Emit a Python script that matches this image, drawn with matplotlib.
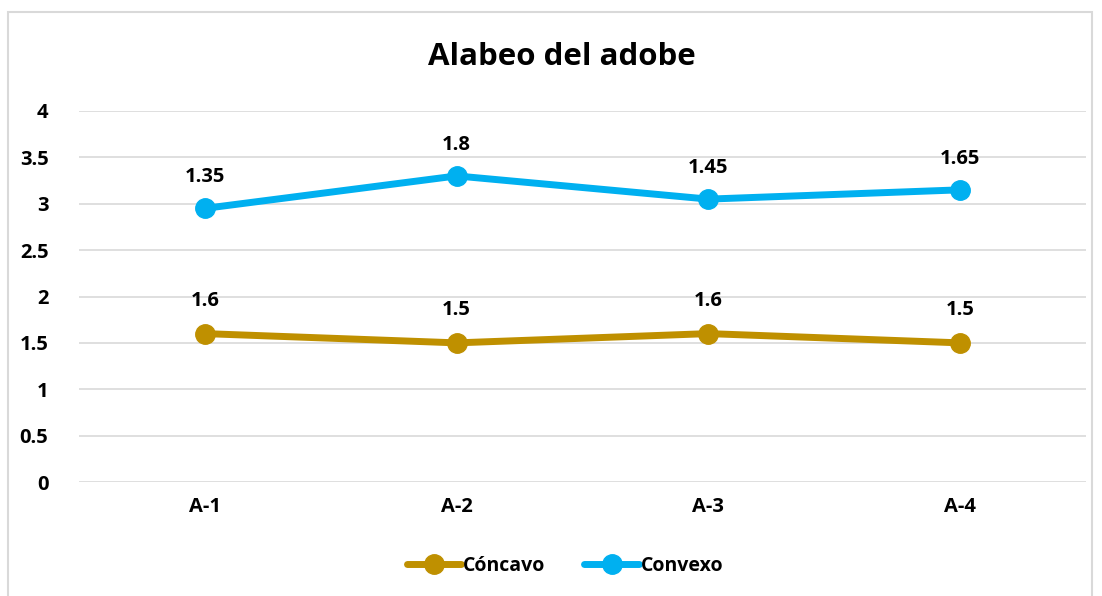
import matplotlib
matplotlib.use("Agg")
import matplotlib.pyplot as plt
import numpy as np
from matplotlib.patches import Rectangle

categories = ["A-1", "A-2", "A-3", "A-4"]
concavo = [1.6, 1.5, 1.6, 1.5]
convexo = [1.35, 1.8, 1.45, 1.65]
yticks = [0, 0.5, 1, 1.5, 2, 2.5, 3, 3.5, 4]
ytick_labels = ["0", "0.5", "1", "1.5", "2", "2.5", "3", "3.5", "4"]

plt.rcParams['font.family'] = ['Open Sans', 'DejaVu Sans']
plt.rcParams['font.weight'] = 'bold'

fig = plt.figure(figsize=(11.02, 5.96), dpi=100)
fig.patches.append(Rectangle((8/1102, -0.05), (1092-8)/1102, 1 - 12/596 + 0.05,
                             transform=fig.transFigure, fill=False,
                             edgecolor='#D9D9D9', linewidth=1.5))
ax = fig.add_axes([79/1102, 1-482/596, (1086-79)/1102, (482-111)/596])

x = np.arange(len(categories))
stack1 = np.array(concavo)
stack2 = stack1 + np.array(convexo)

c1 = '#BF9000'
c2 = '#00B0F0'
ax.plot(x, stack1, color=c1, lw=5, marker='o', ms=14, label='Cóncavo', solid_capstyle='round')
ax.plot(x, stack2, color=c2, lw=5, marker='o', ms=14, label='Convexo', solid_capstyle='round')

for xi, y, v in zip(x, stack1, concavo):
    ax.annotate(f"{v:g}", (xi, y), xytext=(0, 23.5), textcoords='offset points',
                ha='center', va='center', fontsize=14.5, fontweight='bold')
for xi, y, v in zip(x, stack2, convexo):
    ax.annotate(f"{v:g}", (xi, y), xytext=(0, 22.5), textcoords='offset points',
                ha='center', va='center', fontsize=14.5, fontweight='bold')

ax.set_xlim(-0.5, len(categories) - 0.5)
ax.set_ylim(0, 4)
ax.set_yticks(yticks)
ax.set_yticklabels(ytick_labels)
ax.set_xticks(x)
ax.set_xticklabels(categories)
ax.tick_params(axis='both', length=0, labelsize=14.5)
ax.tick_params(axis='y', pad=22)
ax.tick_params(axis='x', pad=11)
for lbl in ax.get_xticklabels() + ax.get_yticklabels():
    lbl.set_fontweight('bold')
ax.grid(axis='y', color='#D9D9D9', lw=1.2)
ax.set_axisbelow(True)
for s in ax.spines.values():
    s.set_visible(False)

fig.text(562/1102, 1-57/596, "Alabeo del adobe", ha='center', va='center',
         fontsize=22.5, fontweight='bold')

leg = fig.legend(loc='center', bbox_to_anchor=(565/1102, 1-566/596), ncol=2,
                 frameon=False, fontsize=14, handlelength=2.8, handletextpad=0.1,
                 columnspacing=2.0, markerscale=1.0)
for t in leg.get_texts():
    t.set_fontweight('bold')

fig.savefig("out.png", dpi=100)
